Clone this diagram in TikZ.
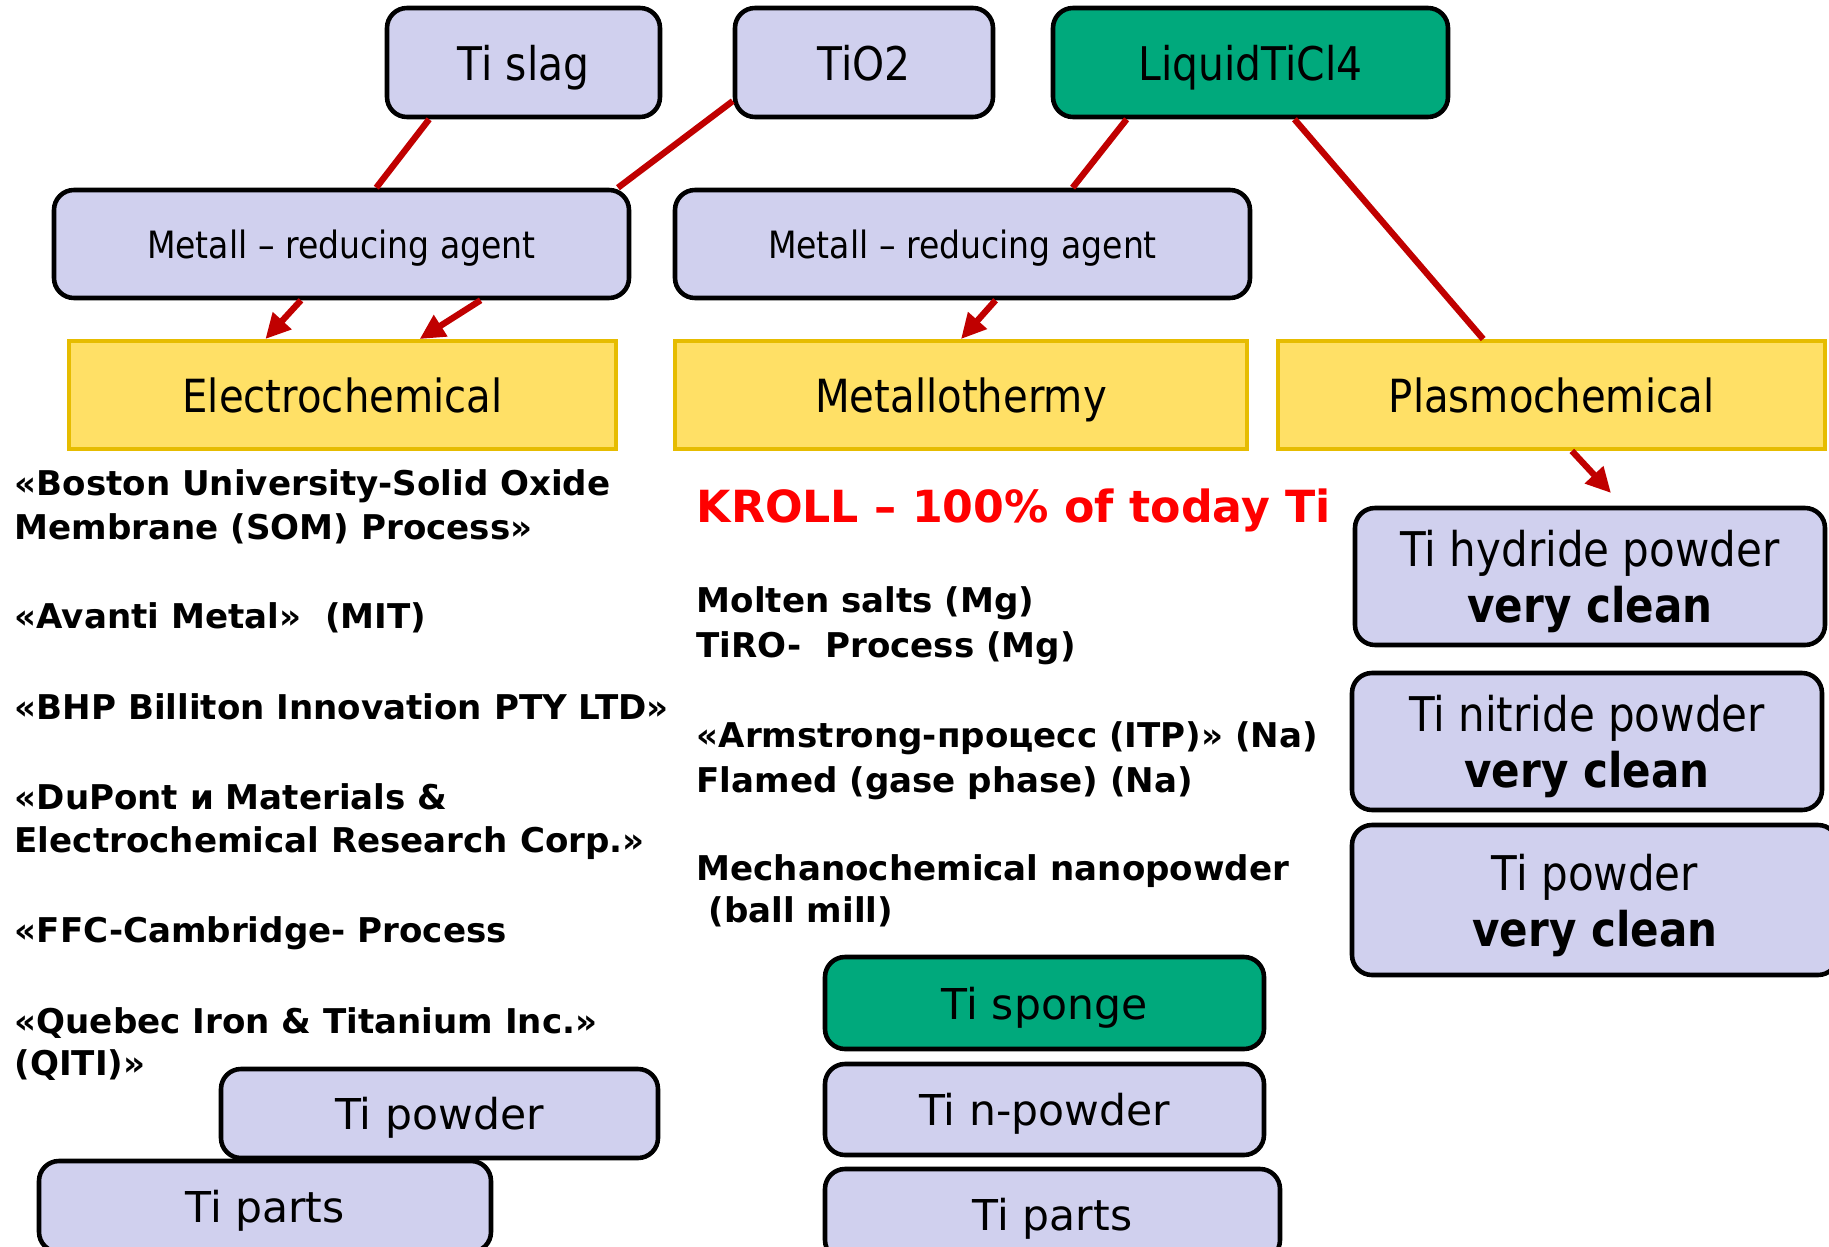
\documentclass[tikz,border=0pt]{standalone}
\usepackage{fontspec}
\setmainfont{DejaVu Sans}
\newfontfamily\narrowfont[FakeStretch=0.88]{DejaVu Sans}
\usepackage{tikz}
\usetikzlibrary{arrows.meta,positioning,calc}
\definecolor{tiLilac}{HTML}{D0D0EE}
\definecolor{tiGreen}{HTML}{00A97C}
\definecolor{tiYellow}{HTML}{FFE066}
\definecolor{tiGold}{HTML}{E6BC00}
\definecolor{tiRed}{HTML}{C00000}
\definecolor{krollRed}{HTML}{FF0000}

\begin{document}
\begin{tikzpicture}[
      boxSrc/.style={rectangle, rounded corners=2mm, draw=black, fill=tiLilac, line width=1.3pt, inner sep=0pt, text depth=0pt, minimum height=1.09cm, font=\narrowfont\fontsize{13.2}{16}\selectfont},
      boxFeed/.style={boxSrc, fill=tiGreen},
      boxAgent/.style={boxSrc, minimum width=5.75cm, minimum height=1.08cm, font=\narrowfont\fontsize{10.7}{13}\selectfont},
      boxMethod/.style={rectangle, draw=tiGold, fill=tiYellow, line width=1.1pt, inner sep=0pt, text depth=0pt, minimum height=1.08cm, font=\narrowfont\fontsize{13}{16}\selectfont},
      boxClean/.style={boxSrc, minimum width=4.7cm, minimum height=1.37cm, align=center, font=\narrowfont\fontsize{13.6}{15.9}\selectfont},
      boxProd/.style={boxSrc, minimum height=0.91cm, font=\fontsize{12.1}{14}\selectfont},
      proc/.style={anchor=base west, inner sep=0pt, font=\bfseries\fontsize{9.7}{12.5}\selectfont},
      flow/.style={draw=tiRed, line width=1.8pt},
      flowArr/.style={flow, -{Triangle[length=2.5mm, width=2.4mm]}}
    ]
      \useasboundingbox (0,0) rectangle (18.29,-12.47);
      \clip (0,0) rectangle (18.29,-12.47);

      % raw materials
      \node[boxSrc, minimum width=2.73cm] (slag) at (5.235,-0.625) {Ti slag};
      \node[boxSrc, minimum width=2.58cm] (tio) at (8.64,-0.625) {TiO2};
      \node[boxFeed, minimum width=3.95cm] (ticl) at (12.505,-0.625) {LiquidTiCl4};

      % reducing agents
      \node[boxAgent] (agentL) at (3.415,-2.44) {Metall – reducing agent};
      \node[boxAgent] (agentR) at (9.625,-2.44) {Metall – reducing agent};

      % methods
      \node[boxMethod, minimum width=5.47cm] (electro) at (3.425,-3.95) {Electrochemical};
      \node[boxMethod, minimum width=5.72cm] (metallo) at (9.61,-3.95) {Metallothermy};
      \node[boxMethod, minimum width=5.47cm] (plasma) at (15.515,-3.95) {Plasmochemical};

      % plasmochemical products
      \node[boxClean] (hydride) at (15.9,-5.765) {Ti hydride powder\\\textbf{very clean}};
      \node[boxClean] (nitride) at (15.87,-7.415) {Ti nitride powder\\\textbf{very clean}};
      \node[boxClean, minimum width=4.86cm, minimum height=1.5cm] (powderR) at (15.95,-9.0) {Ti powder\\\textbf{very clean}};

      % metallothermy products
      \node[boxProd, fill=tiGreen, minimum width=4.39cm, minimum height=0.92cm] (sponge) at (10.445,-10.03) {Ti sponge};
      \node[boxProd, minimum width=4.39cm] (npowder) at (10.445,-11.095) {Ti n-powder};
      \node[boxProd, minimum width=4.55cm] (partsM) at (10.525,-12.145) {Ti parts};

      % electrochemical products
      \node[boxProd, minimum width=4.37cm, minimum height=0.89cm] (powderL) at (4.395,-11.135) {Ti powder};
      \node[boxProd, minimum width=4.52cm] (partsL) at (2.65,-12.065) {Ti parts};

      % electrochemical processes
      \node[proc] (som1) at (0.14,-4.95) {«Boston University-Solid Oxide};
      \node[proc] (som2) at (0.14,-5.39) {Membrane (SOM) Process»};
      \node[proc] (avanti) at (0.14,-6.28) {«Avanti Metal»~ (MIT)};
      \node[proc] (bhp) at (0.14,-7.19) {«BHP Billiton Innovation PTY LTD»};
      \node[proc] (dupont1) at (0.14,-8.09) {«DuPont и Materials \&};
      \node[proc] (dupont2) at (0.14,-8.52) {Electrochemical Research Corp.»};
      \node[proc] (ffc) at (0.14,-9.42) {«FFC-Cambridge- Process};
      \node[proc] (qiti1) at (0.14,-10.33) {«Quebec Iron \& Titanium Inc.»};
      \node[proc] (qiti2) at (0.14,-10.75) {(QITI)»};

      % metallothermy processes
      \node[proc, text=krollRed, font=\bfseries\fontsize{12.6}{15}\selectfont] (kroll) at (6.96,-5.22) {KROLL – 100\% of today Ti};
      \node[proc] (molten) at (6.96,-6.12) {Molten salts (Mg)};
      \node[proc] (tiro) at (6.96,-6.57) {TiRO-~ Process (Mg)};
      \node[proc] (armstrong) at (6.96,-7.47) {«Armstrong-процесс (ITP)» (Na)};
      \node[proc] (flamed) at (6.96,-7.92) {Flamed (gase phase) (Na)};
      \node[proc] (mech1) at (6.96,-8.80) {Mechanochemical nanopowder};
      \node[proc] (mech2) at (6.96,-9.22) {~(ball mill)};

      % connections
      \draw[flow] ($(slag.south west)!0.16!(slag.south east)$) -- ($(agentL.north west)!0.56!(agentL.north east)$);
      \draw[flow] ($(tio.south west)!0.16!(tio.north west)$) -- ($(agentL.north west)!0.977!(agentL.north east)$);
      \draw[flowArr] ($(agentL.south west)!0.43!(agentL.south east)$) -- ($(electro.north west)!0.36!(electro.north east)$);
      \draw[flowArr] ($(agentL.south west)!0.74!(agentL.south east)$) -- ($(electro.north west)!0.64!(electro.north east)$);
      \draw[flow] ($(ticl.south west)!0.19!(ticl.south east)$) -- ($(agentR.north west)!0.69!(agentR.north east)$);
      \draw[flow] ($(ticl.south west)!0.61!(ticl.south east)$) -- ($(plasma.north west)!0.376!(plasma.north east)$);
      \draw[flowArr] ($(agentR.south west)!0.557!(agentR.south east)$) -- ($(metallo.north west)!0.50!(metallo.north east)$);
      \coordinate (plasmaOut) at (16.11,-4.93);
      \draw[flowArr] ($(plasma.south west)!0.537!(plasma.south east)$) -- (plasmaOut);
    \end{tikzpicture}
\end{document}
